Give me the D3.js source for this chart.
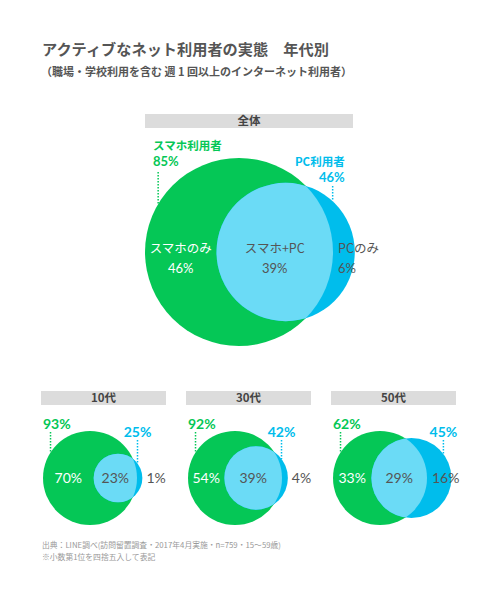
<!DOCTYPE html>
<html><head><meta charset="utf-8">
<script src="https://cdn.jsdelivr.net/npm/d3@7"></script>
<style>
html,body{margin:0;padding:0;background:#fff;}
svg text{font-family:"Noto Sans CJK JP","Noto Sans",sans-serif;}
svg text.num{font-family:Lato,"Noto Sans",sans-serif;}
</style></head>
<body>
<svg id="chart" width="497" height="600"></svg>
<script>
// ---- data ----
const groups = ["全体", "10代", "30代", "50代"];
const smartphoneUsers = [85, 93, 92, 62];
const pcUsers = [46, 25, 42, 45];
const smartphoneOnly = [46, 70, 54, 33];
const bothUsers = [39, 23, 39, 29];
const pcOnly = [6, 1, 4, 16];
const mainLabels = ["スマホ利用者", "PC利用者", "スマホのみ", "スマホ+PC", "PCのみ"];
const titleText = "アクティブなネット利用者の実態　年代別";
const subtitleText = "（職場・学校利用を含む 週 1 回以上のインターネット利用者）";
const footnotes = ["出典：LINE調べ(訪問留置調査・2017年4月実施・n=759・15～59歳)", "※小数第1位を四捨五入して表記"];

// ---- styles / layout ----
const GREEN = "#05c756", BLUE = "#00bdec", LIGHT = "#6bdbf6", TXT = "#555", HEAD = "#dcdcdc";
const panels = [
  {x: 145, w: 208, headY: 114, cy: 252, R: 94, big: true},
  {x: 41, w: 125, headY: 391, cy: 478, R: 47},
  {x: 186, w: 125, headY: 391, cy: 478, R: 47},
  {x: 331, w: 125, headY: 391, cy: 478, R: 47}
];

const svg = d3.select("#chart");

svg.append("text").attr("x", 42).attr("y", 55).attr("font-size", 15.2).attr("font-weight", 700)
  .attr("fill", TXT).text(titleText);
svg.append("text").attr("x", 41).attr("y", 76).attr("font-size", 11).attr("font-weight", 700)
  .attr("fill", TXT).text(subtitleText);

function lensArea(r1, r2, d) {
  if (d >= r1 + r2) return 0;
  if (d <= Math.abs(r1 - r2)) return Math.PI * Math.min(r1, r2) ** 2;
  const a1 = r1 * r1 * Math.acos((d * d + r1 * r1 - r2 * r2) / (2 * d * r1));
  const a2 = r2 * r2 * Math.acos((d * d + r2 * r2 - r1 * r1) / (2 * d * r2));
  const k = 0.5 * Math.sqrt((-d + r1 + r2) * (d + r1 - r2) * (d - r1 + r2) * (d + r1 + r2));
  return a1 + a2 - k;
}
function solveDist(r1, r2, target) {
  let lo = Math.abs(r1 - r2) + 1e-6, hi = r1 + r2;
  for (let i = 0; i < 60; i++) {
    const mid = (lo + hi) / 2;
    if (lensArea(r1, r2, mid) > target) lo = mid; else hi = mid;
  }
  return (lo + hi) / 2;
}

groups.forEach((g, i) => {
  const p = panels[i];
  const gEl = svg.append("g");
  // header
  gEl.append("rect").attr("x", p.x).attr("y", p.headY).attr("width", p.w).attr("height", 14).attr("fill", HEAD);
  gEl.append("text").attr("x", p.x + p.w / 2).attr("y", p.headY + 11).attr("text-anchor", "middle")
    .attr("font-size", 11.5).attr("font-weight", 700).attr("fill", "#444").text(g);

  const r = d3.scaleSqrt().domain([0, smartphoneUsers[i]]).range([0, p.R]);
  const rg = r(smartphoneUsers[i]), rb = r(pcUsers[i]);
  const target = bothUsers[i] / smartphoneUsers[i] * Math.PI * rg * rg;
  const d = solveDist(rg, rb, target);
  const gcx = p.x + (p.big ? 0 : 2) + rg, bcx = gcx + d, cy = p.cy;

  // circles with clip for intersection
  const clipId = "clip" + i;
  svg.append("defs").append("clipPath").attr("id", clipId)
    .append("circle").attr("cx", gcx).attr("cy", cy).attr("r", rg);
  gEl.append("circle").attr("cx", gcx).attr("cy", cy).attr("r", rg).attr("fill", GREEN);
  gEl.append("circle").attr("cx", bcx).attr("cy", cy).attr("r", rb).attr("fill", BLUE);
  gEl.append("circle").attr("cx", bcx).attr("cy", cy).attr("r", rb).attr("fill", LIGHT)
    .attr("clip-path", `url(#${clipId})`);

  // leader lines
  const gx = gcx - rg * (p.big ? 0.86 : 0.84);
  const gyEnd = cy - Math.sqrt(rg * rg - (gx - gcx) ** 2);
  const bx = bcx + rb * (p.big ? 0.68 : 0.8);
  const byEnd = cy - Math.sqrt(rb * rb - (bx - bcx) ** 2);
  const fsTop = p.big ? 13 : 14;

  if (p.big) {
    gEl.append("text").attr("x", p.x + 8).attr("y", 150).attr("font-size", 11.5).attr("font-weight", 700)
      .attr("fill", GREEN).text(mainLabels[0]);
    gEl.append("text").attr("class", "num").attr("x", p.x + 8).attr("y", 165.5).attr("font-size", fsTop).attr("font-weight", 700)
      .attr("fill", GREEN).text(smartphoneUsers[i] + "%");
    gEl.append("line").attr("x1", gx).attr("x2", gx).attr("y1", 172).attr("y2", gyEnd)
      .attr("stroke", GREEN).attr("stroke-width", 1.5).attr("stroke-dasharray", "1.5,1.5");
    gEl.append("text").attr("x", bx + 12).attr("y", 166).attr("text-anchor", "end").attr("font-size", 11.5)
      .attr("font-weight", 700).attr("fill", BLUE).text(mainLabels[1]);
    gEl.append("text").attr("class", "num").attr("x", bx + 12).attr("y", 182).attr("text-anchor", "end").attr("font-size", fsTop)
      .attr("font-weight", 700).attr("fill", BLUE).text(pcUsers[i] + "%");
    gEl.append("line").attr("x1", bx).attr("x2", bx).attr("y1", 186).attr("y2", byEnd)
      .attr("stroke", BLUE).attr("stroke-width", 1.5).attr("stroke-dasharray", "1.5,1.5");
  } else {
    gEl.append("text").attr("class", "num").attr("x", gcx - rg).attr("y", cy - 49).attr("font-size", fsTop).attr("font-weight", 700)
      .attr("fill", GREEN).text(smartphoneUsers[i] + "%");
    gEl.append("line").attr("x1", gx).attr("x2", gx).attr("y1", cy - 46).attr("y2", gyEnd)
      .attr("stroke", GREEN).attr("stroke-width", 1.5).attr("stroke-dasharray", "1.5,1.5");
    gEl.append("text").attr("class", "num").attr("x", bx).attr("y", cy - 41).attr("text-anchor", "middle").attr("font-size", fsTop)
      .attr("font-weight", 700).attr("fill", BLUE).text(pcUsers[i] + "%");
    gEl.append("line").attr("x1", bx).attr("x2", bx).attr("y1", cy - 38).attr("y2", byEnd)
      .attr("stroke", BLUE).attr("stroke-width", 1.5).attr("stroke-dasharray", "1.5,1.5");
  }

  // inner labels
  const greenRight = gcx + rg, blueRight = bcx + rb;
  const xGreenOnly = ((gcx - rg) + (bcx - rb)) / 2;
  const xBoth = ((bcx - rb) + greenRight) / 2;
  const xPcOnly = (blueRight - greenRight < 6) ? blueRight + 4 : greenRight + 5;
  const fsIn = p.big ? 13 : 14;
  const vals = [
    {x: xGreenOnly, anchor: "middle", fill: "#fff", name: mainLabels[2], v: smartphoneOnly[i]},
    {x: xBoth, anchor: "middle", fill: TXT, name: mainLabels[3], v: bothUsers[i]},
    {x: xPcOnly, anchor: "start", fill: TXT, name: mainLabels[4], v: pcOnly[i]}
  ];
  vals.forEach(o => {
    if (p.big) {
      gEl.append("text").attr("x", o.x).attr("y", cy + 1).attr("text-anchor", o.anchor).attr("font-size", 12.5)
        .attr("fill", o.fill).text(o.name);
      gEl.append("text").attr("class", "num").attr("x", o.x).attr("y", cy + 21).attr("text-anchor", o.anchor).attr("font-size", fsIn)
        .attr("fill", o.fill).text(o.v + "%");
    } else {
      gEl.append("text").attr("class", "num").attr("x", o.x).attr("y", cy + 5).attr("text-anchor", o.anchor).attr("font-size", fsIn)
        .attr("fill", o.fill).text(o.v + "%");
    }
  });
});

footnotes.forEach((t, k) => {
  svg.append("text").attr("x", 42).attr("y", 548 + k * 12).attr("font-size", 7.8).attr("fill", "#999").text(t);
});
</script>
</body></html>
